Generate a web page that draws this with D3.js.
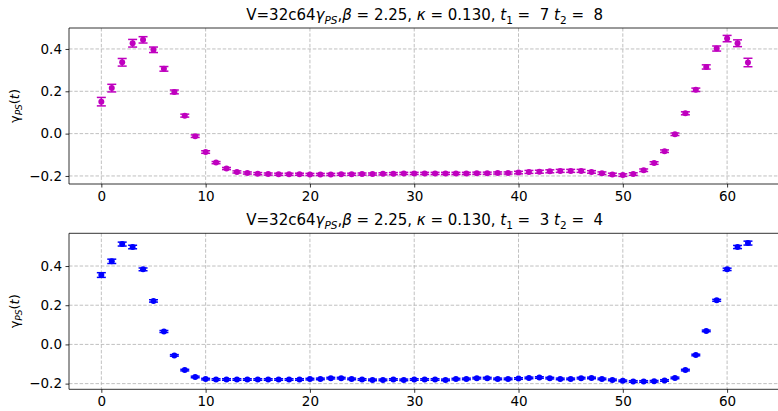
<!DOCTYPE html>
<html>
<head>
<meta charset="utf-8">
<script src="https://cdn.jsdelivr.net/npm/d3@7"></script>
<style>
html,body{margin:0;padding:0;background:#fff;}
svg{display:block;font-family:"DejaVu Sans",sans-serif;}
text{white-space:pre;}
</style>
</head>
<body>
<svg id="chart" width="778" height="411"></svg>
<script>
const tValues = d3.range(0, 63);
const xTicks = [0, 10, 20, 30, 40, 50, 60];
const yTicksTop = [-0.2, 0.0, 0.2, 0.4];
const yTicksBottom = [-0.2, 0.0, 0.2, 0.4];

const topValues = [0.151, 0.215, 0.337, 0.427, 0.443, 0.396, 0.306, 0.197, 0.085, -0.012,
  -0.087, -0.137, -0.165, -0.181, -0.186, -0.189, -0.191, -0.192, -0.192, -0.192,
  -0.193, -0.193, -0.193, -0.192, -0.192, -0.191, -0.191, -0.190, -0.189, -0.188,
  -0.188, -0.188, -0.188, -0.188, -0.188, -0.188, -0.187, -0.187, -0.186, -0.186,
  -0.184, -0.181, -0.180, -0.178, -0.176, -0.176, -0.176, -0.181, -0.187, -0.193,
  -0.196, -0.191, -0.173, -0.139, -0.083, -0.003, 0.096, 0.207, 0.315, 0.402,
  0.449, 0.427, 0.336];
const topErrors = [0.020, 0.018, 0.018, 0.018, 0.015, 0.013, 0.011, 0.009, 0.007, 0.006,
  0.006, 0.005, 0.005, 0.005, 0.005, 0.005, 0.005, 0.005, 0.005, 0.005,
  0.005, 0.005, 0.005, 0.005, 0.005, 0.005, 0.005, 0.005, 0.005, 0.005,
  0.005, 0.005, 0.005, 0.005, 0.005, 0.005, 0.005, 0.005, 0.005, 0.005,
  0.006, 0.007, 0.007, 0.007, 0.007, 0.007, 0.007, 0.006, 0.006, 0.006,
  0.006, 0.006, 0.006, 0.006, 0.006, 0.006, 0.007, 0.008, 0.010, 0.012,
  0.015, 0.016, 0.020];

const bottomValues = [0.354, 0.424, 0.512, 0.497, 0.383, 0.222, 0.066, -0.056, -0.131, -0.166,
  -0.177, -0.179, -0.179, -0.179, -0.179, -0.179, -0.179, -0.179, -0.179, -0.179,
  -0.177, -0.176, -0.172, -0.172, -0.176, -0.179, -0.181, -0.181, -0.179, -0.181,
  -0.179, -0.179, -0.179, -0.181, -0.177, -0.176, -0.172, -0.172, -0.176, -0.176,
  -0.174, -0.171, -0.169, -0.172, -0.176, -0.176, -0.172, -0.171, -0.176, -0.181,
  -0.186, -0.189, -0.189, -0.188, -0.184, -0.171, -0.131, -0.054, 0.069, 0.225,
  0.383, 0.497, 0.517];
const bottomErrors = [0.012, 0.011, 0.010, 0.009, 0.007, 0.006, 0.005, 0.004, 0.004, 0.004,
  0.004, 0.004, 0.004, 0.004, 0.004, 0.004, 0.004, 0.004, 0.004, 0.004,
  0.004, 0.004, 0.004, 0.004, 0.004, 0.004, 0.004, 0.004, 0.004, 0.004,
  0.004, 0.004, 0.004, 0.004, 0.004, 0.004, 0.004, 0.004, 0.004, 0.004,
  0.004, 0.004, 0.004, 0.004, 0.004, 0.004, 0.004, 0.004, 0.004, 0.004,
  0.004, 0.004, 0.004, 0.004, 0.004, 0.004, 0.004, 0.004, 0.004, 0.005,
  0.006, 0.008, 0.010];

const panels = [
  {values: topValues, errors: topErrors, yTicks: yTicksTop, yDomain: [-0.238, 0.499],
   top: 28, bottom: 184, color: "#bf00bf", t1: "7", t2: "8"},
  {values: bottomValues, errors: bottomErrors, yTicks: yTicksBottom, yDomain: [-0.229, 0.567],
   top: 233.3, bottom: 389.3, color: "#0000ff", t1: "3", t2: "4"}
];

const svg = d3.select("#chart");
const left = 69, right = 780.3;
const x = d3.scaleLinear().domain([-3.1, 65.1]).range([left, right]);

panels.forEach(p => {
  const y = d3.scaleLinear().domain(p.yDomain).range([p.bottom, p.top]);
  const g = svg.append("g");

  // grid
  g.append("g").selectAll("line").data(xTicks).join("line")
    .attr("x1", d => x(d)).attr("x2", d => x(d))
    .attr("y1", p.top).attr("y2", p.bottom)
    .attr("stroke", "#b0b0b0").attr("stroke-width", 0.8).attr("stroke-dasharray", "3.5,1.8");
  g.append("g").selectAll("line").data(p.yTicks).join("line")
    .attr("x1", left).attr("x2", right)
    .attr("y1", d => y(d)).attr("y2", d => y(d))
    .attr("stroke", "#b0b0b0").attr("stroke-width", 0.8).attr("stroke-dasharray", "3.5,1.8");

  // axes
  const xAxis = d3.axisBottom(x).tickValues(xTicks).tickSize(3.5).tickPadding(3.5).tickFormat(d3.format("d"));
  const ax = g.append("g").attr("transform", `translate(0,${p.bottom})`).call(xAxis);
  const yAxis = d3.axisLeft(y).tickValues(p.yTicks).tickSize(3.5).tickPadding(3.5)
    .tickFormat(d => d3.format(".1f")(d).replace("-", "\u2212"));
  const ay = g.append("g").attr("transform", `translate(${left},0)`).call(yAxis);
  [ax, ay].forEach(a => {
    a.select(".domain").remove();
    a.selectAll("line").attr("stroke", "#000").attr("stroke-width", 0.8);
    a.selectAll("text").attr("font-size", "13.5px").attr("fill", "#000").attr("font-family", "DejaVu Sans");
  });

  // spines
  g.append("line").attr("x1", left).attr("x2", left).attr("y1", p.top).attr("y2", p.bottom)
    .attr("stroke", "#000").attr("stroke-width", 0.8);
  g.append("line").attr("x1", left).attr("x2", right).attr("y1", p.bottom).attr("y2", p.bottom)
    .attr("stroke", "#000").attr("stroke-width", 0.8);
  g.append("line").attr("x1", left).attr("x2", right).attr("y1", p.top).attr("y2", p.top)
    .attr("stroke", "#000").attr("stroke-width", 0.8);

  // data
  const data = tValues.map((t, i) => ({t, v: p.values[i], e: p.errors[i]}));
  const eb = g.append("g").attr("stroke", p.color).attr("stroke-width", 1.5);
  eb.selectAll("line.v").data(data).join("line").attr("class", "v")
    .attr("x1", d => x(d.t)).attr("x2", d => x(d.t))
    .attr("y1", d => y(d.v - d.e)).attr("y2", d => y(d.v + d.e));
  eb.selectAll("line.c1").data(data).join("line").attr("class", "c1")
    .attr("x1", d => x(d.t) - 4.5).attr("x2", d => x(d.t) + 4.5)
    .attr("y1", d => y(d.v - d.e)).attr("y2", d => y(d.v - d.e));
  eb.selectAll("line.c2").data(data).join("line").attr("class", "c2")
    .attr("x1", d => x(d.t) - 4.5).attr("x2", d => x(d.t) + 4.5)
    .attr("y1", d => y(d.v + d.e)).attr("y2", d => y(d.v + d.e));
  g.append("g").selectAll("circle").data(data).join("circle")
    .attr("cx", d => x(d.t)).attr("cy", d => y(d.v)).attr("r", 3)
    .attr("fill", p.color);

  // title
  const title = g.append("text").attr("x", (left + right) / 2).attr("y", p.top - 8)
    .attr("text-anchor", "middle").attr("font-size", "15px").attr("fill", "#000");
  const parts = [
    ["V=32c64", false, false], ["γ", true, false], ["PS", true, true], [",", false, false],
    ["β", true, false], [" = 2.25, ", false, false], ["κ", true, false], [" = 0.130, ", false, false],
    ["t", true, false], [p.t1, false, true], [" =  " + p.t1 + " ", false, false],
    ["t", true, false], [p.t2, false, true], [" =  " + p.t2, false, false]
  ];
  // fix: subscripts for t are 1 and 2
  parts[9][0] = "1"; parts[12][0] = "2";
  let sub = false;
  parts.forEach(([s, it, isSub]) => {
    const ts = title.append("tspan").text(s);
    if (it) ts.attr("font-style", "italic");
    if (isSub && !sub) { ts.attr("dy", 3.5).attr("font-size", "10.5px"); sub = true; }
    else if (!isSub && sub) { ts.attr("dy", -3.5); sub = false; }
  });

  // y label
  const ylab = g.append("text")
    .attr("transform", `translate(19,${(p.top + p.bottom) / 2}) rotate(-90)`)
    .attr("text-anchor", "middle").attr("font-size", "13px").attr("fill", "#000");
  ylab.append("tspan").text("γ");
  ylab.append("tspan").text("PS").attr("font-style", "italic").attr("font-size", "9px").attr("dy", 3);
  ylab.append("tspan").text("(").attr("dy", -3);
  ylab.append("tspan").text("t").attr("font-style", "italic");
  ylab.append("tspan").text(")");
});
</script>
</body>
</html>
